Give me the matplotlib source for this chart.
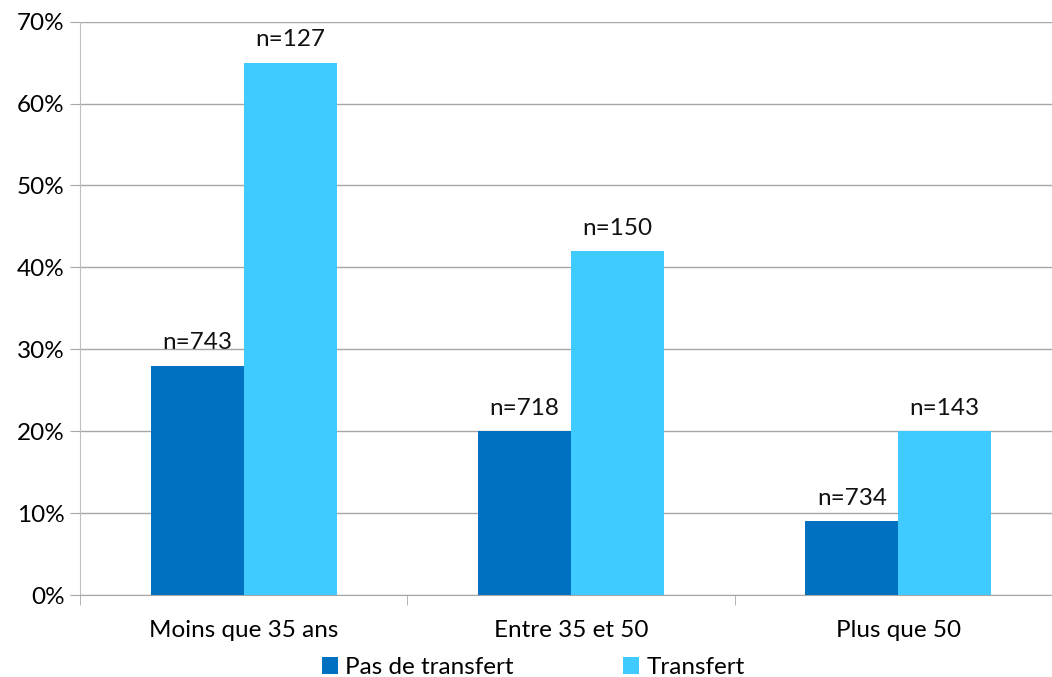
import numpy as np
import matplotlib.pyplot as plt
from matplotlib.ticker import PercentFormatter

categories = ["Moins que 35 ans", "Entre 35 et 50", "Plus que 50"]
pas_transfert = [28, 20, 9]
transfert = [65, 42, 20]
n_pas = ["n=743", "n=718", "n=734"]
n_trans = ["n=127", "n=150", "n=143"]

plt.rcParams["font.family"] = ["Lato", "DejaVu Sans"]
fs = 17.5

fig = plt.figure(figsize=(10.52, 6.77), dpi=100)
ax = fig.add_axes([0.076, 0.121, 0.9335, 0.847])

x = np.arange(len(categories))
w = 0.284
b1 = ax.bar(x - w / 2, pas_transfert, w, color="#0070C0", label="Pas de transfert", zorder=3)
b2 = ax.bar(x + w / 2, transfert, w, color="#3FCBFF", label="Transfert", zorder=3)

for bars, labels in ((b1, n_pas), (b2, n_trans)):
    for rect, lab in zip(bars, labels):
        ax.annotate(lab, (rect.get_x() + rect.get_width() / 2, rect.get_height()),
                    xytext=(0, 9), textcoords="offset points",
                    ha="center", va="bottom", fontsize=fs, color="#111111")

ax.set_ylim(0, 70)
ax.set_xlim(-0.5, 2.5)
ax.set_yticks(range(0, 71, 10))
ax.yaxis.set_major_formatter(PercentFormatter(decimals=0))
ax.set_xticks(x)
ax.set_xticklabels(categories)
ax.set_xticks([-0.5, 0.5, 1.5, 2.5], minor=True)
ax.tick_params(axis="x", which="major", length=0, pad=18, labelsize=fs)
ax.tick_params(axis="x", which="minor", length=7, color="#A6A6A6", direction="out")
ax.tick_params(axis="y", length=7, color="#A6A6A6", labelsize=fs, pad=4)

ax.grid(axis="y", color="#A6A6A6", linewidth=1, zorder=0)
for s in ("top", "right"):
    ax.spines[s].set_visible(False)
ax.spines["left"].set_color("#BFBFBF")
ax.spines["bottom"].set_color("#A6A6A6")

fig.legend(loc="lower center", bbox_to_anchor=(0.507, -0.005), ncol=2, frameon=False,
           fontsize=fs, handlelength=0.65, handleheight=0.65, handletextpad=0.3,
           columnspacing=4.5, borderaxespad=0, borderpad=0.1)

fig.savefig("out.png", dpi=100)
